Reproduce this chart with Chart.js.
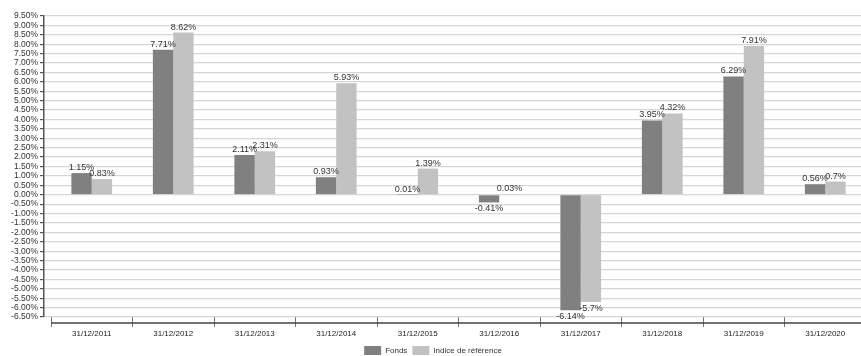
<!DOCTYPE html>
<html>
<head>
<meta charset="utf-8">
<script src="https://cdn.jsdelivr.net/npm/chart.js@4.4.0/dist/chart.umd.min.js"></script>
<style>
  html, body { margin: 0; padding: 0; background: #fff; overflow: hidden; }
  .chartDiv { width: 866px; height: 356px; position: relative; }
</style>
</head>
<body>
<div class="chartDiv"><canvas id="chart"></canvas></div>
<script>
const categories = ['31/12/2011', '31/12/2012', '31/12/2013', '31/12/2014', '31/12/2015',
                    '31/12/2016', '31/12/2017', '31/12/2018', '31/12/2019', '31/12/2020'];
const fonds = [1.15, 7.71, 2.11, 0.93, 0.01, -0.41, -6.14, 3.95, 6.29, 0.56];
const indice = [0.83, 8.62, 2.31, 5.93, 1.39, 0.03, -5.7, 4.32, 7.91, 0.7];
const seriesNames = ['Fonds', 'Indice de r\u00e9f\u00e9rence'];
const yMin = -6.5, yMax = 9.5, yStep = 0.5;

const font = "'Liberation Sans', Arial, sans-serif";

// value labels above / below every bar
const barLabels = {
    id: 'barLabels',
    afterDatasetsDraw(chart) {
        const ctx = chart.ctx;
        ctx.save();
        ctx.font = '9px ' + font;
        ctx.fillStyle = '#333';
        ctx.textAlign = 'center';
        chart.data.datasets.forEach((ds, i) => {
            chart.getDatasetMeta(i).data.forEach((bar, j) => {
                const v = ds.data[j];
                const txt = String(v) + '%';
                if (v >= 0) {
                    ctx.textBaseline = 'bottom';
                    ctx.fillText(txt, bar.x, bar.y - 1);
                } else {
                    ctx.textBaseline = 'top';
                    ctx.fillText(txt, bar.x, bar.y + 2);
                }
            });
        });
        ctx.restore();
    }
};

// category axis starts a few px right of the value axis, and its line sits below the plot
const xAxisOffset = {
    id: 'xAxisOffset',
    beforeLayout(chart) {
        const lg = chart.legend;
        if (lg && !lg._fixedFit) {
            const fit = lg.fit.bind(lg);
            lg.fit = function () { fit(); this.height = 15; };
            lg._fixedFit = true;
        }
    },
    afterLayout(chart) {
        const x = chart.scales.x;
        x.left = chart.chartArea.left + 7;
        x.width = x.right - x.left;
        x.configure();
    },
    afterDraw(chart) {
        const x = chart.scales.x;
        const ctx = chart.ctx;
        const y = chart.chartArea.bottom + 6;
        ctx.save();
        ctx.strokeStyle = '#444';
        ctx.lineWidth = 1.5;
        ctx.beginPath();
        ctx.moveTo(x.left, y);
        ctx.lineTo(x.right, y);
        ctx.stroke();
        ctx.restore();
    }
};

new Chart(document.getElementById('chart'), {
    type: 'bar',
    data: {
        labels: categories,
        datasets: [
            { label: seriesNames[0], data: fonds, backgroundColor: '#808080' },
            { label: seriesNames[1], data: indice, backgroundColor: '#c2c2c2' }
        ]
    },
    options: {
        responsive: true,
        maintainAspectRatio: false,
        animation: false,
        layout: { padding: { top: 16, right: 0, left: 0, bottom: 0 } },
        datasets: { bar: { categoryPercentage: 0.5, barPercentage: 1 } },
        scales: {
            x: {
                grid: { display: true, drawOnChartArea: false, offset: true, tickLength: 10, color: '#777', lineWidth: 1 },
                border: { display: false },
                ticks: { color: '#222', font: { family: font, size: 8 }, padding: 2, maxRotation: 0 },
                afterFit(scale) { scale.height = 24; }
            },
            y: {
                min: yMin,
                max: yMax,
                border: { color: '#555', width: 1.5 },
                grid: { color: '#d6d6d6', lineWidth: 1.2, tickLength: 4, tickColor: '#555' },
                ticks: {
                    stepSize: yStep,
                    autoSkip: false,
                    padding: 2,
                    color: '#333',
                    font: { family: font, size: 8.5 },
                    callback: v => v.toFixed(2) + '%'
                },
                afterFit(scale) { scale.width = 44; }
            }
        },
        plugins: {
            legend: {
                position: 'bottom',
                labels: { boxWidth: 17, boxHeight: 9, padding: 5, color: '#333', font: { family: font, size: 8 } }
            },
            tooltip: { enabled: false }
        }
    },
    plugins: [barLabels, xAxisOffset]
});
</script>
</body>
</html>
